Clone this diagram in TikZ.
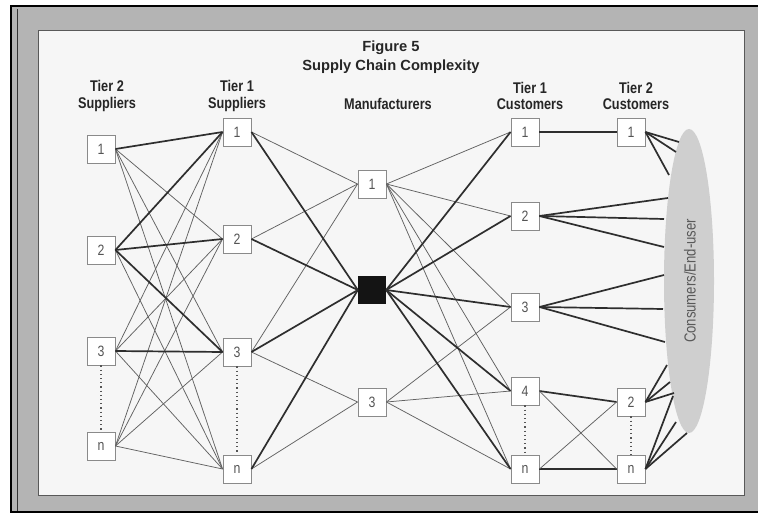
\documentclass[tikz,border=0pt]{standalone}
\usepackage{fontspec}
\setmainfont{Liberation Sans}
\newfontfamily\cond[FakeStretch=0.82]{Liberation Sans}
\definecolor{bandgray}{HTML}{B4B4B4}
\definecolor{panel}{HTML}{F6F6F6}
\definecolor{boxgray}{HTML}{8A8A8A}
\definecolor{numgray}{HTML}{555555}
\definecolor{linkgray}{HTML}{626262}
\definecolor{linkdark}{HTML}{2E2E2E}
\definecolor{crowd}{HTML}{CFCFCF}
\begin{document}
\begin{tikzpicture}[x=1pt,y=-1pt,
  box/.style={draw=boxgray, line width=0.9pt, fill=white, minimum size=28pt,
    inner sep=0pt, text=numgray, font=\cond\fontsize{15}{15}\selectfont},
  hub/.style={fill=black!92, minimum size=28pt, inner sep=0pt},
  weak/.style={draw=linkgray, line width=0.75pt},
  strong/.style={draw=linkdark, line width=1.7pt},
  ellipsis/.style={draw=numgray, line width=1.2pt, dash pattern=on 1.2pt off 3pt},
  header/.style={align=center, text=black!85, font=\cond\bfseries\fontsize{15.5}{16.5}\selectfont},
  title/.style={align=center, text=black!85, font=\bfseries\fontsize{14.7}{18.5}\selectfont}]
\useasboundingbox (0,0) rectangle (758,513);

% page frame and panel
\fill[white] (0,0) rectangle (758,513);
\fill[bandgray] (10,6) rectangle (758,513);
\draw[black, line width=2pt] (10.5,513) -- (10.5,6) -- (758,6);
\draw[black!80, line width=1.2pt] (17.5,513) -- (17.5,9);
\draw[black, line width=2.4pt] (10,511.8) -- (758,511.8);
\draw[black!65, line width=0.8pt, fill=panel] (38,30) rectangle (744,495);

% titles
\node[title] (fig) at (391,57) {Figure 5\\Supply Chain Complexity};
\node[header] (h1) at (107,96) {Tier 2\\Suppliers};
\node[header] (h2) at (237,96) {Tier 1\\Suppliers};
\node[header] (h3) at (388,104) {Manufacturers};
\node[header] (h4) at (530,96) {Tier 1\\Customers};
\node[header] (h5) at (636,96) {Tier 2\\Customers};

% consumer crowd
\fill[crowd] (689,281) ellipse [x radius=25, y radius=152];
\node[rotate=90, text=black!65, font=\cond\fontsize{16}{16}\selectfont] (crowdlabel) at (690,281) {Consumers/End-user};

% tier 2 suppliers
\node[box] (A1) at (101,149) {1};
\node[box] (A2) at (101,250) {2};
\node[box] (A3) at (101,351) {3};
\node[box] (An) at (101,446) {n};
% tier 1 suppliers
\node[box] (B1) at (237,132) {1};
\node[box] (B2) at (237,239) {2};
\node[box] (B3) at (237,352) {3};
\node[box] (Bn) at (237,469) {n};
% manufacturers
\node[box] (M1) at (372,184) {1};
\node[hub] (MB) at (372,290) {};
\node[box] (M3) at (372,402) {3};
% tier 1 customers
\node[box] (C1) at (525,132) {1};
\node[box] (C2) at (525,216) {2};
\node[box] (C3) at (525,307) {3};
\node[box] (C4) at (525,391) {4};
\node[box] (Cn) at (525,469) {n};
% tier 2 customers
\node[box] (D1) at (631,132) {1};
\node[box] (D2) at (631,402) {2};
\node[box] (Dn) at (631,469) {n};

% ends of the links into the crowd
\coordinate (e11) at (679,142); \coordinate (e12) at (676,152); \coordinate (e13) at (669,175);
\coordinate (e21) at (668,198); \coordinate (e22) at (664,219); \coordinate (e23) at (664,247);
\coordinate (e31) at (664,275); \coordinate (e32) at (663,309); \coordinate (e33) at (665,342);
\coordinate (e41) at (667,365); \coordinate (e42) at (670,382); \coordinate (e43) at (674,393);
\coordinate (e51) at (673,396); \coordinate (e52) at (676,422); \coordinate (e53) at (687,433);

% tier 2 -> tier 1 suppliers
\foreach \a/\b in {A1/B2,A1/B3,A1/Bn,A2/Bn,A3/B1,A3/B2,A3/Bn,An/B1,An/B2,An/B3,An/Bn}
  \draw[weak] (\a.east) -- (\b.west);
\foreach \a/\b in {A1/B1,A2/B1,A2/B2,A2/B3,A3/B3}
  \draw[strong] (\a.east) -- (\b.west);

% tier 1 suppliers -> manufacturers
\foreach \a/\b in {B1/M1,B2/M1,B3/M1,B3/M3,Bn/M3}
  \draw[weak] (\a.east) -- (\b.west);
\foreach \a in {B1,B2,B3,Bn}
  \draw[strong] (\a.east) -- (MB.west);

% manufacturers -> tier 1 customers
\foreach \b in {C1,C2,C3,C4,Cn}
  \draw[weak] (M1.east) -- (\b.west);
\foreach \b in {C3,C4,Cn}
  \draw[weak] (M3.east) -- (\b.west);
\foreach \b in {C1,C2,C3,C4,Cn}
  \draw[strong] (MB.east) -- (\b.west);

% tier 1 -> tier 2 customers
\draw[strong] (C1.east) -- (D1.west);
\draw[strong] (C4.east) -- (D2.west);
\draw[strong] (Cn.east) -- (Dn.west);
\draw[weak] (C4.east) -- (Dn.west);
\draw[weak] (Cn.east) -- (D2.west);

% links into the crowd
\foreach \e in {e11,e12,e13} \draw[strong] (D1.east) -- (\e);
\foreach \e in {e21,e22,e23} \draw[strong] (C2.east) -- (\e);
\foreach \e in {e31,e32,e33} \draw[strong] (C3.east) -- (\e);
\foreach \e in {e41,e42,e43} \draw[strong] (D2.east) -- (\e);
\foreach \e in {e51,e52,e53} \draw[strong] (Dn.east) -- (\e);

% elided members of each tier
\draw[ellipsis] (A3.south) -- (An.north);
\draw[ellipsis] (B3.south) -- (Bn.north);
\draw[ellipsis] (C4.south) -- (Cn.north);
\draw[ellipsis] (D2.south) -- (Dn.north);
\end{tikzpicture}
\end{document}
